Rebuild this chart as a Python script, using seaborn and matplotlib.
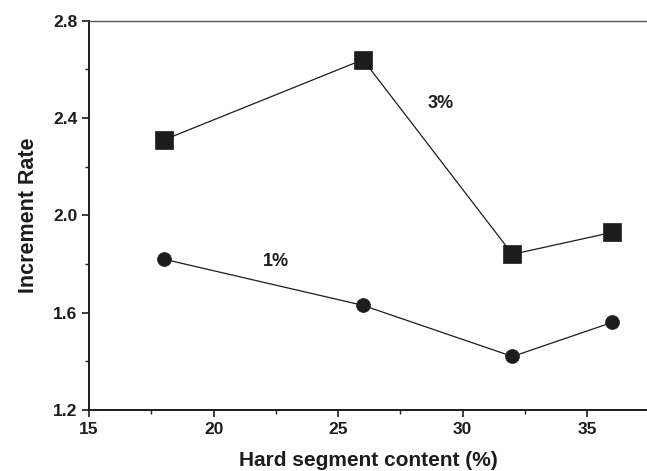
import matplotlib
matplotlib.use("Agg")
import matplotlib.pyplot as plt
import pandas as pd
import seaborn as sns
from matplotlib.ticker import MultipleLocator

# values
hard_segment = [18, 26, 32, 36]
rate_3pct = [2.31, 2.64, 1.84, 1.93]
rate_1pct = [1.82, 1.63, 1.42, 1.56]
x_ticks = [15, 20, 25, 30, 35]
y_ticks = [1.2, 1.6, 2.0, 2.4, 2.8]

df = pd.DataFrame({
    "content": hard_segment * 2,
    "rate": rate_3pct + rate_1pct,
    "series": ["3%"] * 4 + ["1%"] * 4,
})

sns.set_style("ticks")
plt.rcParams["font.family"] = ["Liberation Sans", "DejaVu Sans"]
plt.rcParams["font.weight"] = "bold"

fig = plt.figure(figsize=(6.47, 4.71), dpi=100)
ax = fig.add_axes([0.1376, 0.1295, 0.8624, 0.8265])

ink = "#1c1c1c"
sns.lineplot(data=df[df.series == "3%"], x="content", y="rate", ax=ax,
             color=ink, linewidth=0.9, marker="s", markersize=12.5,
             markeredgecolor=ink, markeredgewidth=0.5)
sns.lineplot(data=df[df.series == "1%"], x="content", y="rate", ax=ax,
             color=ink, linewidth=0.9, marker="o", markersize=10,
             markeredgecolor=ink, markeredgewidth=0.5)

ax.text(29.1, 2.46, "3%", fontsize=13, fontweight="bold", ha="center", va="center", color=ink)
ax.text(22.5, 1.81, "1%", fontsize=13, fontweight="bold", ha="center", va="center", color=ink)

ax.set_xlim(15, 37.4)
ax.set_ylim(1.2, 2.8)
ax.set_xticks(x_ticks)
ax.set_yticks(y_ticks)
ax.set_yticklabels([f"{v:.1f}" for v in y_ticks])
ax.xaxis.set_minor_locator(MultipleLocator(2.5))
ax.yaxis.set_minor_locator(MultipleLocator(0.2))
ax.tick_params(which="major", direction="out", length=5, width=1.2, labelsize=12.5, colors=ink)
ax.tick_params(which="minor", direction="out", length=3, width=1.0, colors=ink)
for lab in ax.get_xticklabels() + ax.get_yticklabels():
    lab.set_fontweight("bold")

ax.spines["right"].set_visible(False)
ax.spines["left"].set_linewidth(1.4)
ax.spines["bottom"].set_linewidth(1.4)
ax.spines["top"].set_linewidth(1.0)
for s in ax.spines.values():
    s.set_color(ink)
ax.spines["top"].set_color("#555555")

ax.set_xlabel("Hard segment content (%)", fontsize=15, fontweight="bold", labelpad=10, color=ink)
ax.set_ylabel("Increment Rate", fontsize=15.5, fontweight="bold", labelpad=10, color=ink)

fig.savefig("out.png", dpi=100)
